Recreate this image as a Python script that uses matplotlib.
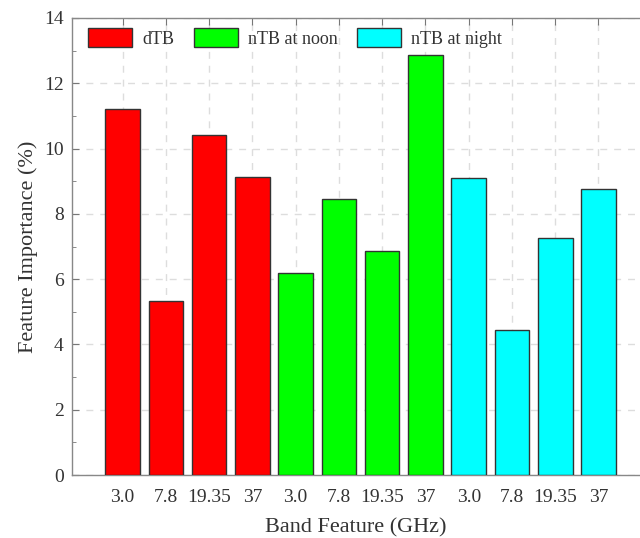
import matplotlib
matplotlib.use('Agg')
import matplotlib.pyplot as plt
from matplotlib.patches import Patch
from matplotlib.ticker import MultipleLocator

# band labels and importance values (%)
bands = ['3.0', '7.8', '19.35', '37']
dtb = [11.21, 5.33, 10.41, 9.14]
ntb_noon = [6.19, 8.47, 6.87, 12.88]
ntb_night = [9.09, 4.43, 7.26, 8.77]
groups = ['dTB', 'nTB at noon', 'nTB at night']
colors = ['#ff0000', '#00ff00', '#00ffff']

plt.rcParams['font.family'] = ['Liberation Serif', 'DejaVu Serif']
txt = '#333333'

fig = plt.figure(figsize=(6.4, 5.38), dpi=100)
ax = fig.add_axes([72 / 640, 63 / 538, 568 / 640, 457 / 538])

values = dtb + ntb_noon + ntb_night
labels = bands * 3
barColors = [c for c in colors for _ in bands]
xs = list(range(len(values)))

ax.bar(xs, values, width=0.8, color=barColors, edgecolor='#333333', linewidth=1.0, zorder=3)

ax.set_xlim(-1.17, 11.96)
ax.set_ylim(0, 14)
ax.set_xticks(xs)
ax.set_xticklabels(labels)
ax.yaxis.set_major_locator(MultipleLocator(2))
ax.yaxis.set_minor_locator(MultipleLocator(1))

ax.tick_params(axis='x', which='both', direction='in', top=True, bottom=False, length=5,
               color='#777777', labelsize=14, labelcolor=txt, pad=10)
ax.tick_params(axis='y', which='major', direction='in', length=5, color='#777777',
               labelsize=14, labelcolor=txt, pad=6)
ax.tick_params(axis='y', which='minor', direction='in', length=3, color='#777777')

for s in ['left', 'top', 'bottom']:
    ax.spines[s].set_color('#888888')
    ax.spines[s].set_linewidth(1.0)
ax.spines['right'].set_visible(False)

ax.set_axisbelow(True)
ax.grid(True, which='major', linestyle=(0, (5, 5)), color='#dddddd', linewidth=1.0, zorder=0)

ax.set_xlabel('Band Feature (GHz)', fontsize=16, color=txt, labelpad=9)
ax.set_ylabel('Feature Importance (%)', fontsize=16, color=txt, labelpad=4)

handles = [Patch(facecolor=c, edgecolor='#333333', linewidth=1.0) for c in colors]
ax.legend(handles, groups, loc='upper left', bbox_to_anchor=(0.028, 0.978), ncol=3,
          frameon=False, fontsize=13, handlelength=2.44, handleheight=1.27,
          handletextpad=0.55, columnspacing=1.1, borderpad=0, borderaxespad=0,
          labelcolor=txt)

fig.savefig('out.png', dpi=100)
